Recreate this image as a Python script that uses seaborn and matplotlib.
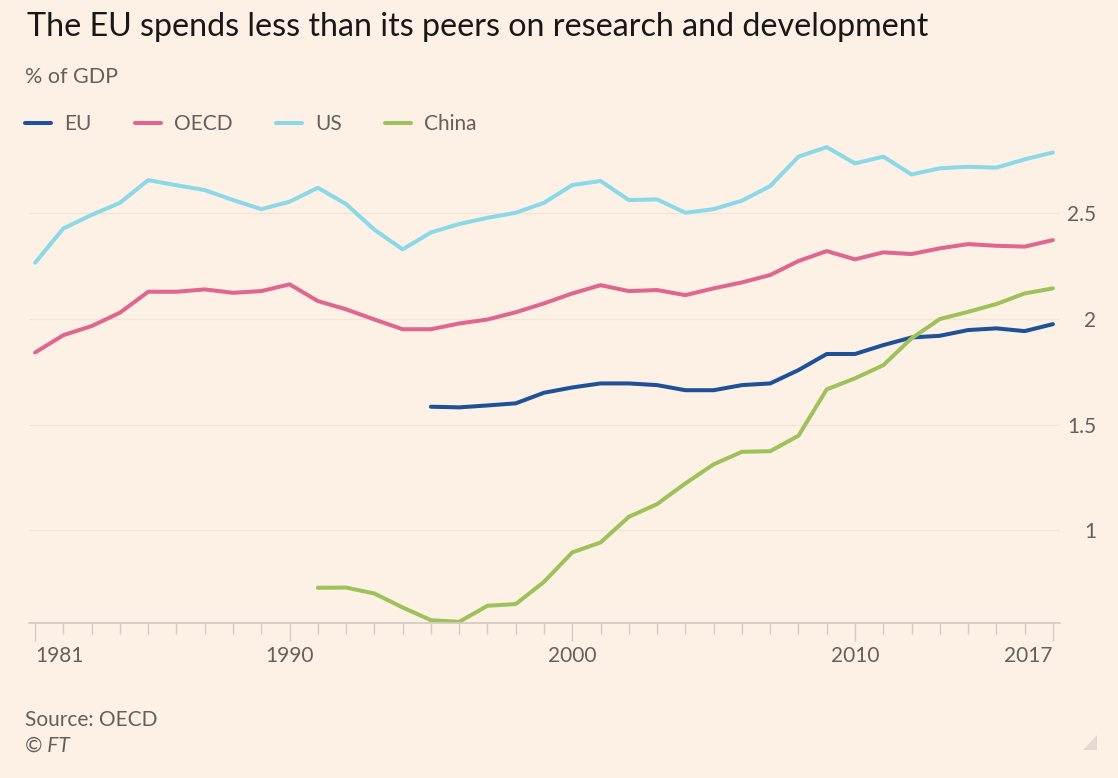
import numpy as np
import pandas as pd
import matplotlib
matplotlib.use("Agg")
import matplotlib.pyplot as plt
import seaborn as sns
from matplotlib.patches import Polygon

nan = np.nan
years = list(range(1981, 2018))
eu = [nan] * 14 + [1.584, 1.581, 1.59, 1.60, 1.65, 1.675, 1.694, 1.694, 1.686, 1.662,
                   1.662, 1.686, 1.694, 1.757, 1.833, 1.833, 1.875, 1.911, 1.919, 1.946,
                   1.954, 1.941, 1.974]
oecd = [1.84, 1.922, 1.965, 2.028, 2.127, 2.127, 2.138, 2.122, 2.13, 2.162,
        2.083, 2.044, 1.996, 1.95, 1.95, 1.977, 1.996, 2.03, 2.072, 2.119,
        2.158, 2.13, 2.135, 2.111, 2.143, 2.171, 2.206, 2.272, 2.319, 2.28,
        2.313, 2.305, 2.332, 2.352, 2.344, 2.34, 2.371]
us = [2.264, 2.426, 2.49, 2.547, 2.654, 2.63, 2.607, 2.56, 2.517, 2.552,
      2.618, 2.541, 2.42, 2.327, 2.407, 2.447, 2.476, 2.50, 2.547, 2.631,
      2.65, 2.56, 2.563, 2.50, 2.517, 2.557, 2.626, 2.765, 2.81, 2.733,
      2.765, 2.681, 2.71, 2.717, 2.713, 2.752, 2.785]
china = [nan] * 10 + [0.729, 0.73, 0.702, 0.636, 0.576, 0.568, 0.644, 0.652, 0.757, 0.896,
                      0.943, 1.064, 1.124, 1.222, 1.312, 1.371, 1.374, 1.447, 1.666, 1.718,
                      1.78, 1.907, 1.998, 2.032, 2.069, 2.119, 2.143]

series_names = ['EU', 'OECD', 'US', 'China']
colors = {'EU': '#1f5199', 'OECD': '#e0668f', 'US': '#8bd8e8', 'China': '#9dc25a'}
xtick_major = [1981, 1990, 2000, 2010, 2017]
xtick_labels = ['1981', '1990', '2000', '2010', '2017']
ytick_vals = [1, 1.5, 2, 2.5]
ytick_labels = ['1', '1.5', '2', '2.5']

df = pd.DataFrame({'year': years, 'EU': eu, 'OECD': oecd, 'US': us, 'China': china})
df = df.melt(id_vars='year', var_name='series', value_name='pct').dropna()

bg = '#fdf1e6'
grey = '#66605c'
axis_col = '#d3c9c0'

sns.set_style('white')
plt.rcParams['font.family'] = ['Lato', 'DejaVu Sans']

fig = plt.figure(figsize=(11.18, 7.78), dpi=100, facecolor=bg)
ax = fig.add_axes([0.0256, 0.1996, 0.9225, 0.6222])
ax.set_facecolor(bg)

sns.lineplot(data=df, x='year', y='pct', hue='series', hue_order=series_names,
             palette=colors, linewidth=2.9, ax=ax)

ax.set_xlim(1980.77, 2017.25)
ax.set_ylim(0.564, 2.85)
ax.set_xlabel('')
ax.set_ylabel('')

# x axis: yearly minor ticks, labelled majors
ax.set_xticks(xtick_major)
ax.set_xticklabels(xtick_labels)
ax.set_xticks(years, minor=True)
ax.tick_params(axis='x', which='both', bottom=True, direction='out')
ax.tick_params(axis='x', which='major', length=13, width=1, color=axis_col,
               labelsize=15, labelcolor=grey, pad=4)
ax.tick_params(axis='x', which='minor', length=8, width=1, color=axis_col)
xl = ax.get_xticklabels()
xl[0].set_ha('left')
xl[-1].set_ha('right')

# y axis on the right
ax.yaxis.tick_right()
ax.set_yticks(ytick_vals)
ax.set_yticklabels(ytick_labels)
ax.tick_params(axis='y', length=0, pad=26, labelsize=15, labelcolor=grey)
for lab in ax.get_yticklabels():
    lab.set_ha('right')
ax.grid(axis='y', color='#f3e4d8', linewidth=1)
ax.grid(axis='x', visible=False)

for s in ['left', 'right', 'top']:
    ax.spines[s].set_visible(False)
ax.spines['bottom'].set_color(axis_col)
ax.spines['bottom'].set_linewidth(1.2)

sns.move_legend(ax, 'center left', bbox_to_anchor=(25 / 1118, 1 - 124 / 778),
                bbox_transform=fig.transFigure, ncol=4, frameon=False, title=None,
                fontsize=15, labelcolor=grey, handlelength=1.25, handletextpad=0.65,
                columnspacing=2.05, borderpad=0, borderaxespad=0)

fig.text(27 / 1118, 1 - 36 / 778, 'The EU spends less than its peers on research and development',
         fontsize=23.2, color='#1a1817', va='baseline', ha='left')
fig.text(25 / 1118, 1 - 83 / 778, '% of GDP', fontsize=15.5, color=grey, va='baseline')
fig.text(25 / 1118, 1 - 726 / 778, 'Source: OECD', fontsize=15, color=grey, va='baseline')
fig.text(25 / 1118, 1 - 752 / 778, '© FT', fontsize=15, color=grey, va='baseline', style='italic')

# little grip triangle in the corner
tri = Polygon([(1097 / 1118, 1 - 735 / 778), (1097 / 1118, 1 - 750 / 778), (1083 / 1118, 1 - 750 / 778)],
              closed=True, transform=fig.transFigure, facecolor='#e4dad2', edgecolor='none')
fig.patches.append(tri)

fig.savefig('out.png', dpi=100, facecolor=bg)
